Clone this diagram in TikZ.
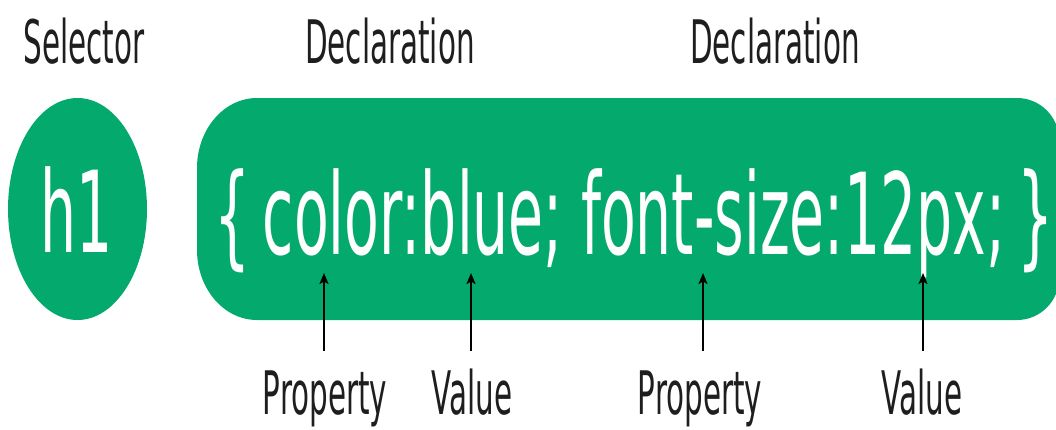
\documentclass[tikz,border=0pt]{standalone}
\usepackage{fontspec}
\setmainfont[FakeStretch=0.49]{DejaVu Sans}
\newfontfamily\codefont[FakeStretch=0.503]{DejaVu Sans}
\usetikzlibrary{arrows.meta}
\definecolor{w3green}{RGB}{4,170,109}
\definecolor{labelgray}{RGB}{30,30,30}
\tikzset{
  lbl/.style={anchor=base, inner sep=0pt, text=labelgray, font=\fontsize{60}{60}\selectfont},
  code/.style={anchor=base, inner sep=0pt, text=white, font=\codefont\fontsize{113}{113}\selectfont},
  arr/.style={line width=2pt, draw=black, -{Stealth[length=11pt,width=9pt,inset=2.5pt]}},
}
\begin{document}
\begin{tikzpicture}[x=1pt,y=-1pt]
\useasboundingbox (0,0) rectangle (1056,429);
% shapes
\fill[w3green] (77.5,209) ellipse [x radius=69.5, y radius=111];
\fill[w3green] (257,98) -- (1017,98) arc[start angle=-90, end angle=0, radius=42]
  -- (1059,278) arc[start angle=0, end angle=90, radius=42]
  -- (257,320) arc[start angle=90, end angle=180, x radius=60, y radius=70]
  -- (197,168) arc[start angle=180, end angle=270, x radius=60, y radius=70] -- cycle;
% code text
\node[code] (sel) at (77,252) {h1};
\node[code] (decl) at (634,254) {\{\hspace{-0.05em} color:blue; font-size:12px; \hspace{-0.05em}\}};
% headers
\node[lbl] (hs) at (84,63) {Selector};
\node[lbl] (hd1) at (390,63) {Declaration};
\node[lbl] (hd2) at (775,63) {Declaration};
% bottom labels
\node[lbl] (p1) at (325,414) {Property};
\node[lbl] (v1) at (472,414) {Value};
\node[lbl] (p2) at (700,414) {Property};
\node[lbl] (v2) at (922,414) {Value};
% arrow endpoints
\coordinate (a1s) at (324,351); \coordinate (a1e) at (324,273);
\coordinate (a2s) at (471,351); \coordinate (a2e) at (471,273);
\coordinate (a3s) at (703,351); \coordinate (a3e) at (703,273);
\coordinate (a4s) at (923,351); \coordinate (a4e) at (923,273);
\draw[arr] (a1s) -- (a1e);
\draw[arr] (a2s) -- (a2e);
\draw[arr] (a3s) -- (a3e);
\draw[arr] (a4s) -- (a4e);
\end{tikzpicture}
\end{document}
